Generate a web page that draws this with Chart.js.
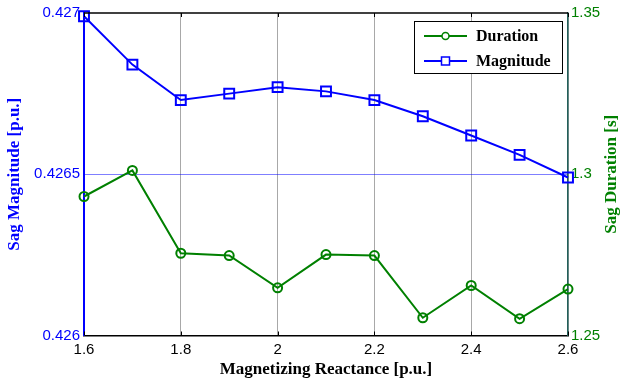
<!DOCTYPE html>
<html>
<head>
<meta charset="utf-8">
<script src="https://cdn.jsdelivr.net/npm/chart.js@4.4.0/dist/chart.umd.min.js"></script>
<style>
  html, body { margin: 0; padding: 0; background: #fff; }
  #wrap { width: 620px; height: 383px; }
</style>
</head>
<body>
<div id="wrap"><canvas id="c" width="620" height="383"></canvas></div>
<script>
const reactance = [1.6, 1.7, 1.8, 1.9, 2.0, 2.1, 2.2, 2.3, 2.4, 2.5, 2.6];
const duration = [1.2931, 1.3012, 1.2755, 1.2748, 1.2648, 1.2751, 1.2748, 1.2555, 1.2655, 1.2552, 1.2644];
const magnitude = [0.42699, 0.42684, 0.42673, 0.42675, 0.42677, 0.426757, 0.42673, 0.42668, 0.42662, 0.42656, 0.42649];
const xTicks = [1.6, 1.8, 2.0, 2.2, 2.4, 2.6];
const leftTicks = [0.426, 0.4265, 0.427];
const rightTicks = [1.25, 1.3, 1.35];
const leftTickLabels = ['0.426', '0.4265', '0.427'];
const rightTickLabels = ['1.25', '1.3', '1.35'];
const xTickLabels = ['1.6', '1.8', '2', '2.2', '2.4', '2.6'];

const GREEN = '#008000';
const BLUE = '#0000ff';
const TITLE_FONT = { family: '"Liberation Serif", "Times New Roman", serif', size: 17, weight: 'bold', lineHeight: 1 };
const TICK_FONT = { family: '"Liberation Sans", Arial, sans-serif', size: 15 };

const extras = {
  id: 'extras',
  afterDatasetsDraw(chart) {
    const ctx = chart.ctx;
    const a = chart.chartArea;
    const xs = chart.scales.x;
    ctx.save();
    // top border
    ctx.strokeStyle = '#000';
    ctx.lineWidth = 1.5;
    ctx.beginPath();
    ctx.moveTo(a.left, a.top);
    ctx.lineTo(a.right, a.top);
    ctx.stroke();
    // inward tick marks at top and bottom
    ctx.lineWidth = 1;
    xTicks.forEach(v => {
      const px = Math.round(xs.getPixelForValue(v)) + 0.5;
      ctx.beginPath();
      ctx.moveTo(px, a.bottom);
      ctx.lineTo(px, a.bottom - 4);
      ctx.moveTo(px, a.top);
      ctx.lineTo(px, a.top + 4);
      ctx.stroke();
    });
    // right title (reads bottom to top)
    ctx.fillStyle = GREEN;
    ctx.font = 'bold 17px "Liberation Serif", "Times New Roman", serif';
    ctx.textAlign = 'center';
    ctx.textBaseline = 'middle';
    ctx.translate(612, (a.top + a.bottom) / 2);
    ctx.rotate(-Math.PI / 2);
    ctx.fillText('Sag Duration [s]', 0, 0);
    ctx.restore();

    // legend
    ctx.save();
    const bx = 414, by = 21, bw = 148, bh = 52;
    ctx.fillStyle = '#fff';
    ctx.fillRect(bx, by, bw, bh);
    ctx.strokeStyle = '#000';
    ctx.lineWidth = 1;
    ctx.strokeRect(bx + 0.5, by + 0.5, bw, bh);
    const items = chart.data.datasets;
    const rows = [36, 61];
    items.forEach((ds, i) => {
      const y = rows[i];
      ctx.strokeStyle = ds.borderColor;
      ctx.lineWidth = 2;
      ctx.beginPath();
      ctx.moveTo(424, y);
      ctx.lineTo(467, y);
      ctx.stroke();
      ctx.lineWidth = 1.5;
      ctx.beginPath();
      if (ds.pointStyle === 'circle') {
        ctx.arc(445.5, y, 3.5, 0, Math.PI * 2);
      } else {
        ctx.rect(441.5, y - 4, 8, 8);
      }
      ctx.fillStyle = '#fff';
      ctx.fill();
      ctx.stroke();
      ctx.fillStyle = '#000';
      ctx.font = 'bold 16px "Liberation Serif", "Times New Roman", serif';
      ctx.textAlign = 'left';
      ctx.textBaseline = 'middle';
      ctx.fillText(ds.label, 476, y + 1);
    });
    ctx.restore();
  }
};

new Chart(document.getElementById('c'), {
  type: 'line',
  data: {
    labels: reactance,
    datasets: [
      {
        label: 'Duration',
        data: reactance.map((x, i) => ({ x, y: duration[i] })),
        yAxisID: 'yR',
        borderColor: GREEN,
        backgroundColor: 'rgba(0,0,0,0)',
        borderWidth: 2,
        pointStyle: 'circle',
        pointRadius: 4.5,
        pointBorderWidth: 2,
        pointBorderColor: GREEN,
        pointBackgroundColor: 'rgba(0,0,0,0)',
        tension: 0,
        clip: false
      },
      {
        label: 'Magnitude',
        data: reactance.map((x, i) => ({ x, y: magnitude[i] })),
        yAxisID: 'yL',
        borderColor: BLUE,
        backgroundColor: 'rgba(0,0,0,0)',
        borderWidth: 2,
        pointStyle: 'rect',
        pointRadius: 7,
        pointBorderWidth: 2,
        pointBorderColor: BLUE,
        pointBackgroundColor: 'rgba(0,0,0,0)',
        tension: 0,
        clip: false
      }
    ]
  },
  options: {
    responsive: false,
    animation: false,
    events: [],
    layout: { padding: { top: 12, left: 0, right: 0, bottom: 0 } },
    plugins: { legend: { display: false }, tooltip: { enabled: false } },
    scales: {
      x: {
        type: 'linear',
        position: 'bottom',
        min: 1.6,
        max: 2.6,
        afterBuildTicks: s => { s.ticks = xTicks.map(v => ({ value: v })); },
        afterFit: s => { s.height = 47.5; },
        ticks: {
          color: '#000',
          font: TICK_FONT,
          padding: 5,
          autoSkip: false,
          maxRotation: 0,
          callback: (v) => xTickLabels[xTicks.findIndex(t => Math.abs(t - v) < 1e-9)]
        },
        grid: { color: '#a8a8a8', lineWidth: 1, drawTicks: false },
        border: { color: '#000', width: 1.5 },
        title: {
          display: true,
          text: 'Magnetizing Reactance [p.u.]',
          color: '#000',
          font: TITLE_FONT,
          padding: { top: 0, bottom: 4.5 }
        }
      },
      yL: {
        type: 'linear',
        position: 'left',
        min: 0.426,
        max: 0.427,
        afterBuildTicks: s => { s.ticks = leftTicks.map(v => ({ value: v })); },
        afterFit: s => { s.width = 84; },
        ticks: {
          color: BLUE,
          font: TICK_FONT,
          padding: 4,
          callback: (v) => leftTickLabels[leftTicks.findIndex(t => Math.abs(t - v) < 1e-9)]
        },
        grid: {
          drawTicks: false,
          lineWidth: 1,
          color: ctx => (ctx.index === 1 ? 'rgba(0,0,255,0.5)' : 'rgba(0,0,0,0)')
        },
        border: { color: BLUE, width: 2 },
        title: {
          display: true,
          text: 'Sag Magnitude [p.u.]',
          color: BLUE,
          font: TITLE_FONT,
          padding: { top: 6.5, bottom: 0 }
        }
      },
      yR: {
        type: 'linear',
        position: 'right',
        min: 1.25,
        max: 1.35,
        afterBuildTicks: s => { s.ticks = rightTicks.map(v => ({ value: v })); },
        afterFit: s => { s.width = 52; },
        ticks: {
          color: GREEN,
          font: TICK_FONT,
          padding: 3,
          callback: (v) => rightTickLabels[rightTicks.findIndex(t => Math.abs(t - v) < 1e-9)]
        },
        grid: { display: false, drawTicks: false },
        border: { color: '#22605a', width: 1.5 },
        title: { display: false }
      }
    }
  },
  plugins: [extras]
});
</script>
</body>
</html>
